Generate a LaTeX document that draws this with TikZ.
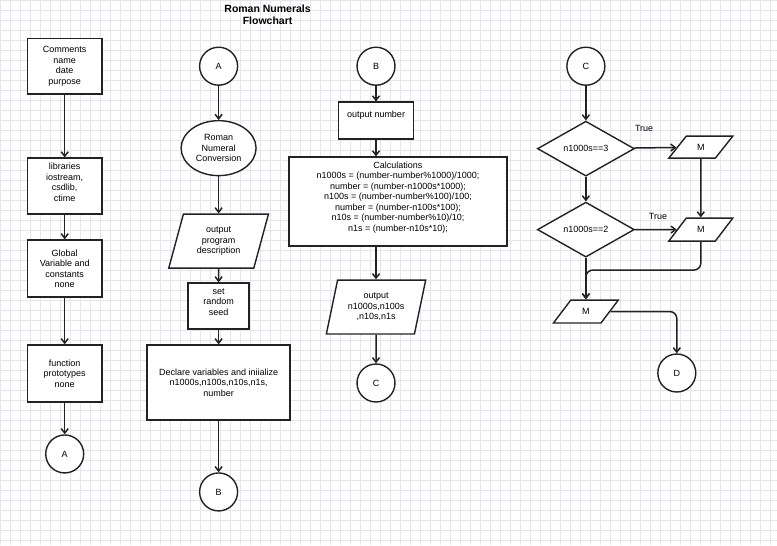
\documentclass[tikz,border=0pt]{standalone}
\usepackage{fontspec}
\setmainfont{Liberation Sans}
\usetikzlibrary{shapes.geometric,arrows.meta}

\definecolor{gridline}{RGB}{229,229,240}
\definecolor{ink}{RGB}{34,34,34}

\begin{document}
\begin{tikzpicture}[x=1pt,y=-1pt,
  font=\fontsize{9}{10.5}\selectfont,
  outline/.style={draw=ink,line width=1.4pt,fill=white},
  procbox/.style={outline,rectangle,align=center,inner sep=0pt,
    minimum width=#1},
  procbox/.default=75pt,
  connector/.style={outline,circle,minimum size=38pt,inner sep=0pt},
  terminal/.style={outline,ellipse,align=center,inner sep=0pt,
    minimum width=75pt,minimum height=55pt},
  iobox/.style={outline,trapezium,trapezium stretches=true,align=center,
    inner sep=0pt},
  decision/.style={outline,diamond,inner sep=0pt,
    minimum width=97pt,minimum height=55pt},
  flow/.style={draw=ink,line width=1.5pt,
    -{Straight Barb[length=4.5pt,width=7pt]}},
  caption/.style={font=\fontsize{9}{10.5}\selectfont},
]
% page and grid
\fill[white] (0,0) rectangle (777,545);
\foreach \gx in {0,10,...,770} \draw[gridline,line width=0.5pt] (\gx,0) -- (\gx,545);
\foreach \gy in {0,10,...,540} \draw[gridline,line width=0.5pt] (0,\gy) -- (777,\gy);
\useasboundingbox (0,0) rectangle (777,545);

% title
\node[align=center,font=\fontsize{10.5}{12}\selectfont\bfseries] (title)
  at (267.5,15) {Roman Numerals\\Flowchart};

% ---------- first column: program header ----------
\node[procbox,minimum height=56pt] (comments) at (64.5,66)
  {Comments\\name\\date\\purpose};
\node[procbox,minimum height=56pt,text depth=8pt] (libs) at (64.5,186)
  {libraries\\iostream,\\csdlib,\\ctime};
\node[procbox,minimum height=57pt] (globals) at (64.5,268.5)
  {Global\\Variable and\\constants\\none};
\node[procbox,minimum height=57pt] (protos) at (64.5,373.5)
  {function\\prototypes\\none};
\node[connector] (outA) at (64.5,454) {A};

\draw[flow] (comments) -- (libs);
\draw[flow] (libs) -- (globals);
\draw[flow] (globals) -- (protos);
\draw[flow] (protos) -- (outA);

% ---------- second column: start of main ----------
\node[connector] (inA) at (218.5,66) {A};
\node[terminal] (start) at (218.5,148) {Roman\\Numeral\\Conversion};
\node[iobox,trapezium left angle=72.5,trapezium right angle=107.5,
  minimum width=100pt,minimum height=54pt] (describe) at (218.5,241)
  {output\\program\\description};
\node[procbox=61pt,minimum height=46pt,text depth=8pt] (seed) at (218.5,306)
  {set\\random\\seed};
\node[procbox=143pt,minimum height=75pt] (declare) at (218.5,382.5)
  {Declare variables and iniialize\\n1000s,n100s,n10s,n1s,\\number};
\node[connector] (outB) at (218.5,492) {B};

\draw[flow] (inA) -- (start);
\draw[flow] (start) -- (describe);
\draw[flow] (describe) -- (seed);
\draw[flow] (seed) -- (declare);
\draw[flow] (declare) -- (outB);

% ---------- third column: digit extraction ----------
\node[connector] (inB) at (376,66) {B};
\node[procbox,minimum height=37pt,text depth=12pt] (shownum) at (376,120.5)
  {output number};
\node[procbox=218pt,minimum height=89pt,text depth=10pt] (calc) at (398,201.5)
  {Calculations\\
   n1000s = (number-number\%1000)/1000;\\
   number = (number-n1000s*1000);\\
   n100s = (number-number\%100)/100;\\
   number = (number-n100s*100);\\
   n10s = (number-number\%10)/10;\\
   n1s = (number-n10s*10);};
\node[iobox,trapezium left angle=73.5,trapezium right angle=106.5,
  minimum width=100pt,minimum height=54pt] (showdigits) at (376,307)
  {output\\n1000s,n100s\\,n10s,n1s};
\node[connector] (outC) at (376,383) {C};

\draw[flow] (inB) -- (shownum);
\draw[flow] (shownum) -- (shownum.south |- calc.north);
\draw[flow] (showdigits.north |- calc.south) -- (showdigits.north);
\draw[flow] (showdigits) -- (outC);

% ---------- fourth column: thousands ----------
\node[connector] (inC) at (586,66) {C};
\node[decision] (is3) at (586,148.5) {n1000s==3};
\node[decision] (is2) at (586,229.5) {n1000s==2};
\node[iobox,trapezium left angle=54,trapezium right angle=126,
  minimum width=64pt,minimum height=22pt] (m3) at (701,147) {M};
\node[iobox,trapezium left angle=54,trapezium right angle=126,
  minimum width=64pt,minimum height=23pt] (m2) at (701,229.5) {M};
\node[iobox,trapezium left angle=55,trapezium right angle=125,
  minimum width=65pt,minimum height=23pt] (m1) at (586,311.5) {M};
\node[connector] (outD) at (677,373) {D};
\coordinate (merge) at (586,270);

\draw[flow] (inC) -- (is3);
\draw[flow] (is3) -- node[caption,pos=0.24,above=12pt] (true3) {True} (m3);
\draw[flow] (is3) -- (is2);
\draw[flow] (is2) -- node[caption,pos=0.55,above=6pt] (true2) {True} (m2);
\draw[flow] (m3) -- (m2);
\draw[flow] (is2) -- (m1);
\draw[flow,rounded corners=7pt] (m2.south) |- (merge) -- (m1.north);
\draw[flow,rounded corners=7pt] (m1.east) -| (outD.north);
\end{tikzpicture}
\end{document}
